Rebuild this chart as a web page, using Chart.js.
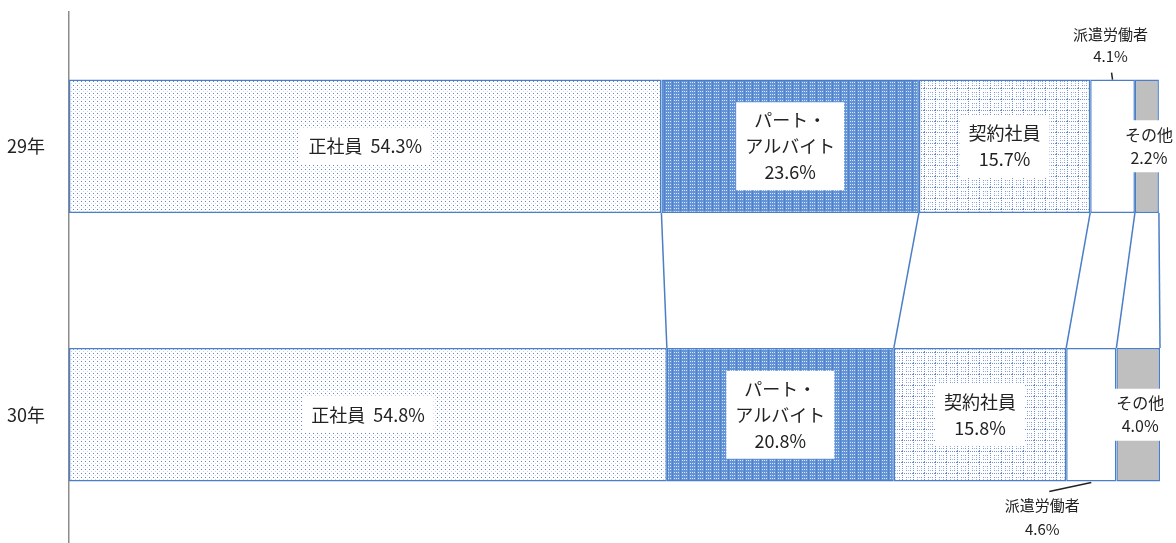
<!DOCTYPE html>
<html>
<head>
<meta charset="utf-8">
<script src="https://cdn.jsdelivr.net/npm/chart.js@4"></script>
<style>
  html, body { margin: 0; padding: 0; background: #fff; overflow: hidden; }
  canvas { display: block; }
</style>
</head>
<body>
<canvas id="grafico" width="1176" height="549"></canvas>
<script>
// datos
const categorias = ["29年", "30年"];
const series = ["正社員", "パート・アルバイト", "契約社員", "派遣労働者", "その他"];
const seishain = [54.3, 54.8];
const paato = [23.6, 20.8];
const keiyaku = [15.7, 15.8];
const haken = [4.1, 4.6];
const sonota = [2.2, 4.0];

const FUENTE = '"Noto Sans CJK JP", "Noto Sans", sans-serif';
const AZUL = "#4a7fc7";

function patron(w, h, dibujar) {
    const c = document.createElement("canvas");
    c.width = w;
    c.height = h;
    dibujar(c.getContext("2d"));
    return c.getContext("2d").createPattern(c, "repeat");
}

// puntos finos
const patPuntos = patron(4, 4, (g) => {
    g.fillStyle = "#ffffff";
    g.fillRect(0, 0, 4, 4);
    g.fillStyle = "rgba(60,100,185,0.8)";
    g.fillRect(1, 1, 1, 1);
    g.fillStyle = "rgba(110,145,205,0.4)";
    g.fillRect(3, 3, 1, 1);
});

// azul denso con puntos claros
const patDenso = patron(8, 3, (g) => {
    g.fillStyle = "#6394d8";
    g.fillRect(0, 0, 8, 3);
    g.fillStyle = "#5282c8";
    g.fillRect(0, 0, 1, 3);
    g.fillStyle = "#dde7f7";
    g.fillRect(2, 1, 1, 1);
    g.fillRect(4, 1, 1, 1);
    g.fillRect(6, 1, 1, 1);
});

// cuadricula punteada
const patCuadros = patron(11, 11, (g) => {
    g.fillStyle = "#ffffff";
    g.fillRect(0, 0, 11, 11);
    g.fillStyle = "rgba(80,120,200,0.8)";
    for (let i = 0; i < 11; i += 2) {
        g.fillRect(i, 0, 1, 1);
        g.fillRect(0, i, 1, 1);
    }
    g.fillStyle = "rgba(80,120,200,0.5)";
    for (let i = 4; i <= 8; i += 2) {
        g.fillRect(i, 4, 1, 1);
        g.fillRect(i, 8, 1, 1);
        g.fillRect(4, i, 1, 1);
        g.fillRect(8, i, 1, 1);
    }
});

const fondos = [patPuntos, patDenso, patCuadros, "#ffffff", "#bfbfbf"];
const valores = [seishain, paato, keiyaku, haken, sonota];

// textos de etiqueta por serie
function textoEtiqueta(serie, v) {
    const p = v.toFixed(1) + "%";
    if (serie === 0) return ["正社員  " + p];
    if (serie === 1) return ["パート・", "アルバイト", p];
    if (serie === 2) return ["契約社員", p];
    if (serie === 3) return ["派遣労働者", p];
    return ["その他", p];
}

const conectores = {
    id: "conectores",
    afterDatasetsDraw(chart) {
        const ctx = chart.ctx;
        ctx.save();
        ctx.strokeStyle = AZUL;
        ctx.lineWidth = 1.5;
        chart.data.datasets.forEach((ds, i) => {
            const m = chart.getDatasetMeta(i);
            const a = m.data[0];
            const b = m.data[1];
            ctx.beginPath();
            ctx.moveTo(a.x, a.y + a.height / 2);
            ctx.lineTo(b.x, b.y - b.height / 2);
            ctx.stroke();
        });
        ctx.restore();
    },
};

const etiquetas = {
    id: "etiquetas",
    afterDraw(chart) {
        const ctx = chart.ctx;
        ctx.save();
        ctx.textAlign = "center";
        ctx.textBaseline = "middle";
        chart.data.datasets.forEach((ds, i) => {
            const m = chart.getDatasetMeta(i);
            m.data.forEach((bar, j) => {
                const lineas = textoEtiqueta(i, ds.data[j]);
                const cx = (bar.x + bar.base) / 2;
                const top = bar.y - bar.height / 2;
                const bottom = bar.y + bar.height / 2;
                if (i === 3) {
                    // fuera de la barra, con linea guia
                    ctx.font = "15px " + FUENTE;
                    ctx.fillStyle = "#222";
                    ctx.strokeStyle = "#222";
                    ctx.lineWidth = 1.5;
                    ctx.beginPath();
                    if (j === 0) {
                        ctx.moveTo(cx, top);
                        ctx.lineTo(cx - 1, top - 7);
                        ctx.stroke();
                        ctx.fillText(lineas[0], cx - 2, top - 45);
                        ctx.fillText(lineas[1], cx - 2, top - 23);
                    } else {
                        ctx.moveTo(cx, bottom + 1);
                        ctx.lineTo(cx - 42, bottom + 10);
                        ctx.stroke();
                        ctx.fillText(lineas[0], cx - 49, bottom + 24);
                        ctx.fillText(lineas[1], cx - 49, bottom + 48);
                    }
                    return;
                }
                const grande = i === 4 ? 16 : 18;
                const alto = i === 4 ? 23 : 26;
                ctx.font = grande + "px " + FUENTE;
                let ancho = 0;
                lineas.forEach((t) => (ancho = Math.max(ancho, ctx.measureText(t).width)));
                const x = i === 4 ? cx + 2 : cx;
                const bw = ancho + (i === 4 ? 4 : 18);
                const bh = lineas.length * alto + (i === 4 ? 6 : 10);
                ctx.fillStyle = "#ffffff";
                ctx.fillRect(x - bw / 2, bar.y - bh / 2, bw, bh);
                ctx.fillStyle = "#222";
                lineas.forEach((t, k) => {
                    ctx.fillText(t, x, bar.y + (k - (lineas.length - 1) / 2) * alto);
                });
            });
        });
        ctx.restore();
    },
};

const datosGrafico = {
    labels: categorias,
    datasets: series.map((nombre, i) => ({
        label: nombre,
        data: valores[i],
        backgroundColor: fondos[i],
        borderColor: AZUL,
        borderWidth: 1.5,
        borderSkipped: false,
        barPercentage: 0.497,
        categoryPercentage: 1,
    })),
};

const configGrafico = {
    type: "bar",
    data: datosGrafico,
    options: {
        indexAxis: "y",
        responsive: false,
        animation: false,
        layout: {
            padding: { top: 12, right: 16, bottom: 0, left: 0 },
        },
        plugins: {
            legend: { display: false },
            tooltip: { enabled: false },
        },
        scales: {
            x: {
                stacked: true,
                min: 0,
                max: 100,
                display: false,
            },
            y: {
                stacked: true,
                grid: { display: false },
                border: { display: true, color: "#8c8c8c", width: 1.5 },
                ticks: {
                    color: "#222",
                    padding: 16,
                    font: { size: 18, family: FUENTE },
                },
                afterFit: (s) => {
                    s.width = 69;
                    s.paddingTop = 0;
                    s.paddingBottom = 0;
                },
            },
        },
    },
    plugins: [conectores, etiquetas],
};

const grafico = new Chart(document.getElementById("grafico"), configGrafico);
</script>
</body>
</html>
